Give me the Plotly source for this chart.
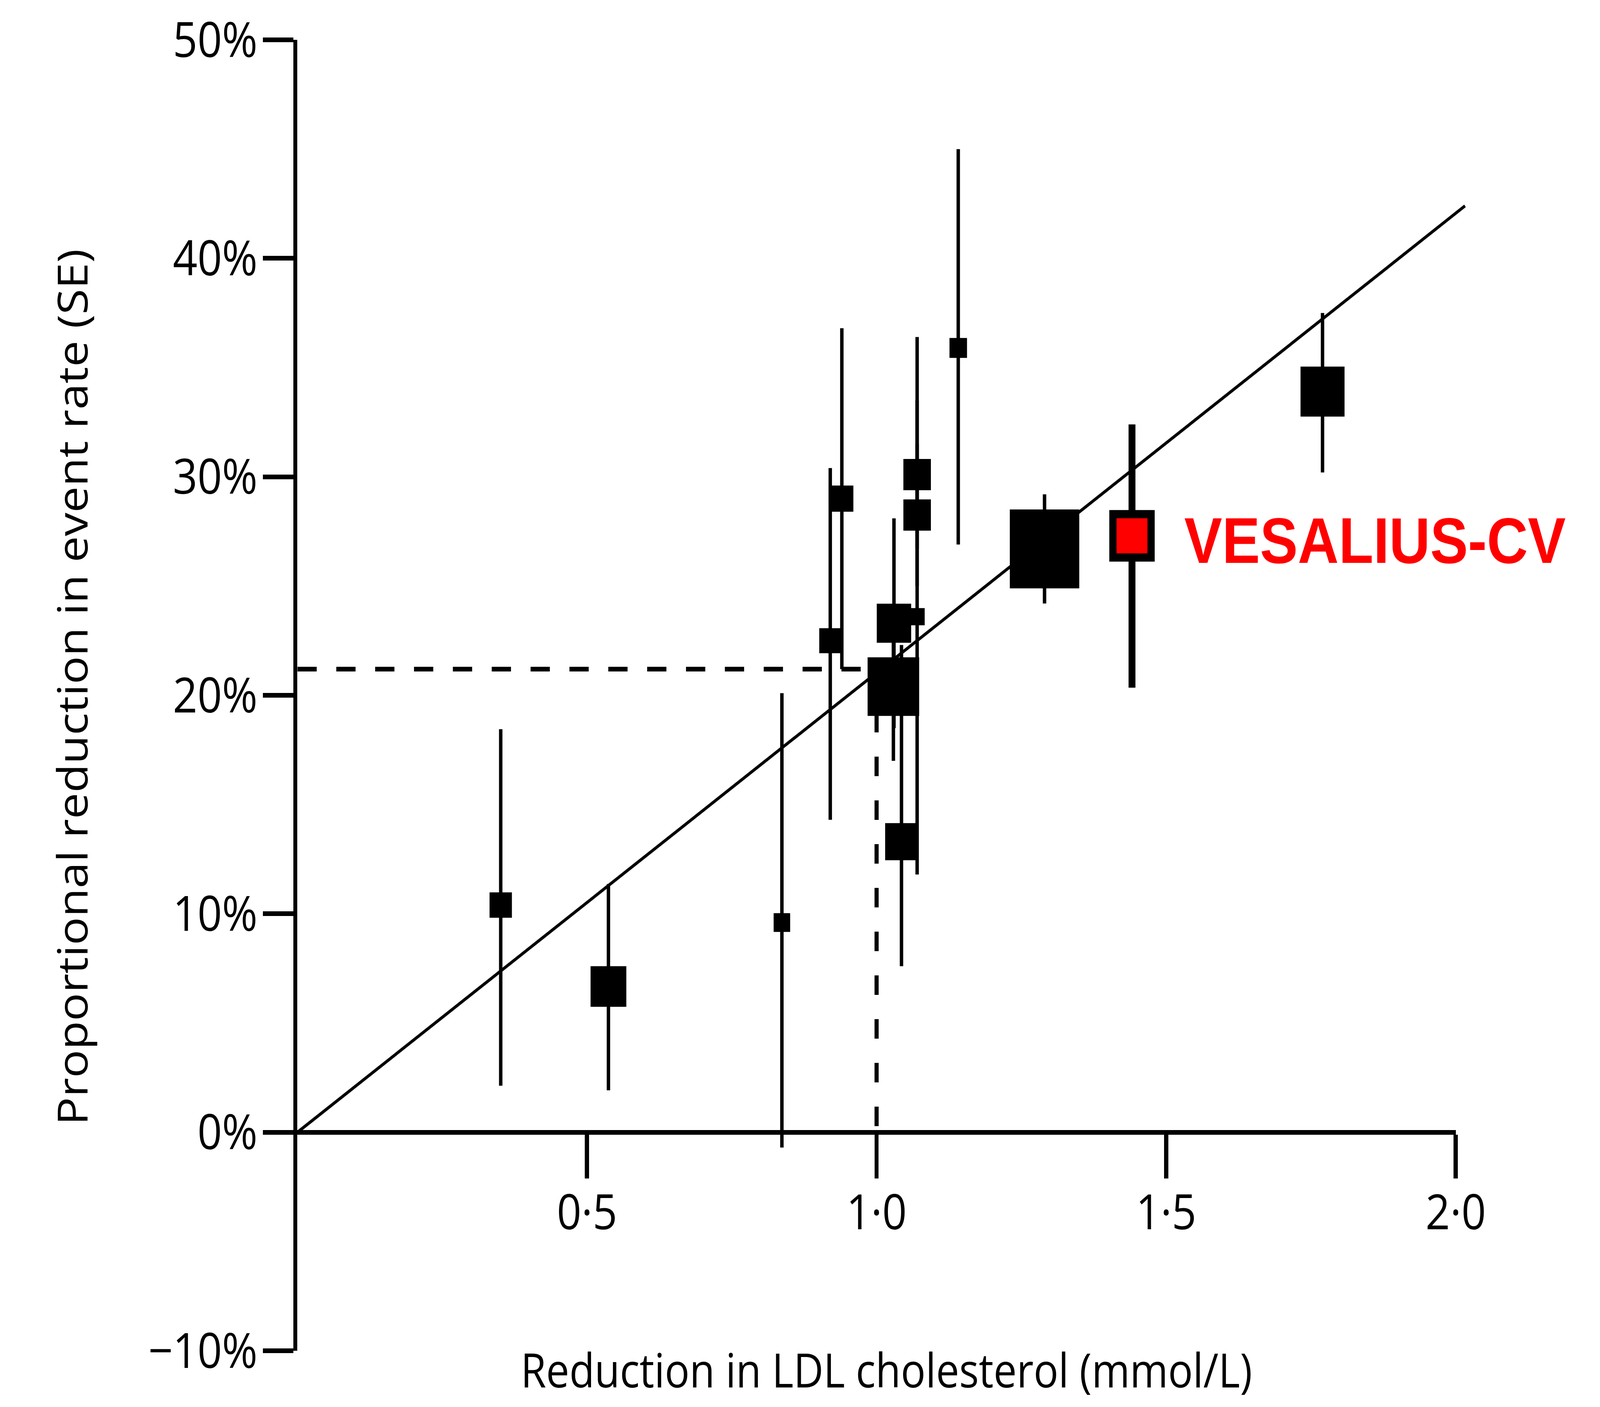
import plotly.graph_objects as go

# ---------------- data ----------------
# trials: reduction in LDL cholesterol (mmol/L) vs proportional reduction in event rate (%)
ldl_reduction = [0.351, 0.537, 0.8365, 0.920, 0.940, 1.029, 1.030, 1.070, 1.070, 1.070, 1.043, 1.141, 1.290, 1.770]
event_reduction = [10.4, 6.67, 9.6, 22.5, 29.0, 20.4, 23.3, 23.6, 30.1, 28.25, 13.3, 35.9, 26.7, 33.9]
ci_upper = [18.45, 11.36, 20.1, 30.4, 36.8, 23.8, 28.1, 36.4, 33.5, 31.5, 22.3, 45.0, 29.2, 37.5]
ci_lower = [2.13, 1.92, -0.7, 14.3, 21.2, 17.0, 18.5, 11.8, 26.7, 25.0, 7.6, 26.9, 24.2, 30.2]
study_weight = [6.5, 10.4, 4.8, 6.4, 6.7, 15.0, 10.0, 4.4, 8.0, 8.0, 9.5, 5.1, 20.2, 12.8]

# highlighted trial
vesalius_name = "VESALIUS-CV"
vesalius_ldl = [1.441]
vesalius_event = [27.3]
vesalius_upper = [32.4]
vesalius_lower = [20.35]
vesalius_weight = [11.1]

# regression line through the origin
reg_ldl = [0.0, 2.016]
reg_event = [0.0, 42.4]

# reference guide at 1 mmol/L
ref_ldl = 1.0
ref_event = 21.2

# axis ticks
x_tickvals = [0.5, 1.0, 1.5, 2.0]
x_ticktext = ["0·5", "1·0", "1·5", "2·0"]
y_tickvals = [-10, 0, 10, 20, 30, 40, 50]
y_ticktext = ["−10%", "0%", "10%", "20%", "30%", "40%", "50%"]
x_title = "Reduction in LDL cholesterol (mmol/L)"
y_title = "Proportional reduction in event rate (SE)"

# ---------------- layout geometry ----------------
W, H = 4653, 3602
ML, MR, MT, MB = 865, 60, 61, 144
plot_w = W - ML - MR
plot_h = H - MT - MB
vis_w = 3405                      # pixel width of the 0-2.0 visible axis
vis_frac = vis_w / plot_w
x_max_vis = 2.0
x_max_data = x_max_vis / vis_frac
y_min, y_max = -10, 50
size_scale = 10.0                 # px per weight unit

FONT = "Open Sans, Noto Sans, DejaVu Sans, sans-serif"
BLACK = "#000000"
RED = "#ff0000"

fig = go.Figure()

# regression line (on the extended data axis so it may run a little past 2.0)
fig.add_trace(go.Scatter(
    x=reg_ldl, y=reg_event, xaxis="x2", yaxis="y", mode="lines",
    line=dict(color=BLACK, width=8), hoverinfo="skip", showlegend=False))

# dashed guides (on the visible axis)
fig.add_trace(go.Scatter(
    x=[0.0, ref_ldl], y=[ref_event, ref_event], xaxis="x", yaxis="y", mode="lines",
    line=dict(color=BLACK, width=12, dash="56px,57px"), hoverinfo="skip", showlegend=False))
fig.add_trace(go.Scatter(
    x=[ref_ldl, ref_ldl], y=[ref_event, 0.0], xaxis="x", yaxis="y", mode="lines",
    line=dict(color=BLACK, width=12, dash="50px,62px"), hoverinfo="skip", showlegend=False))

# trials
fig.add_trace(go.Scatter(
    x=ldl_reduction, y=event_reduction, xaxis="x2", yaxis="y", mode="markers",
    marker=dict(symbol="square", color=BLACK, opacity=1,
                size=[w * size_scale for w in study_weight], line=dict(width=0)),
    error_y=dict(type="data", symmetric=False,
                 array=[u - v for u, v in zip(ci_upper, event_reduction)],
                 arrayminus=[v - l for v, l in zip(event_reduction, ci_lower)],
                 color=BLACK, thickness=10, width=0),
    showlegend=False))

# VESALIUS-CV
fig.add_trace(go.Scatter(
    x=vesalius_ldl, y=vesalius_event, xaxis="x2", yaxis="y", mode="markers",
    marker=dict(symbol="square", color=RED, opacity=1,
                size=[w * size_scale for w in vesalius_weight],
                line=dict(width=21, color=BLACK)),
    error_y=dict(type="data", symmetric=False,
                 array=[u - v for u, v in zip(vesalius_upper, vesalius_event)],
                 arrayminus=[v - l for v, l in zip(vesalius_event, vesalius_lower)],
                 color=BLACK, thickness=20, width=0),
    showlegend=False))

fig.add_annotation(
    x=vesalius_ldl[0], y=vesalius_event[0], xref="x2", yref="y",
    text="<b>" + vesalius_name + "</b>", showarrow=False,
    xanchor="left", yanchor="middle", xshift=150, yshift=-12,
    font=dict(family="Liberation Sans, Arial, sans-serif", size=165, color=RED))

# axis titles
fig.add_annotation(
    x=0, y=0.5063, xref="paper", yref="paper", xshift=-657,
    text=y_title, textangle=-90, showarrow=False,
    xanchor="center", yanchor="middle",
    font=dict(family=FONT, size=120, color=BLACK))
fig.add_annotation(
    x=(2597 - ML) / plot_w, y=(0 - 48) / plot_h, xref="paper", yref="paper",
    text=x_title, showarrow=False, xanchor="center", yanchor="middle",
    font=dict(family=FONT, size=120, color=BLACK))

fig.update_layout(
    width=W, height=H,
    margin=dict(l=ML, r=MR, t=MT, b=MB, pad=0),
    paper_bgcolor="white", plot_bgcolor="rgba(0,0,0,0)",
    showlegend=False,
    xaxis=dict(
        domain=[0, vis_frac], range=[0, x_max_vis],
        anchor="free", position=(0 - y_min) / (y_max - y_min),
        showline=True, linecolor=BLACK, linewidth=12,
        ticks="outside", ticklen=112, tickwidth=12, tickcolor=BLACK,
        tickvals=x_tickvals, ticktext=x_ticktext,
        tickfont=dict(family=FONT, size=125, color=BLACK),
        ticklabelstandoff=-20, ticklabeloverflow="allow",
        showgrid=False, zeroline=False, fixedrange=True),
    xaxis2=dict(
        domain=[0, 1], range=[0, x_max_data], anchor="y",
        visible=False, showgrid=False, zeroline=False, fixedrange=True),
    yaxis=dict(
        domain=[0, 1], range=[y_min, y_max], anchor="x",
        showline=True, linecolor=BLACK, linewidth=12,
        ticks="outside", ticklen=89, tickwidth=12, tickcolor=BLACK,
        tickvals=y_tickvals, ticktext=y_ticktext,
        tickfont=dict(family=FONT, size=125, color=BLACK),
        ticklabelstandoff=-10, ticklabeloverflow="allow",
        showgrid=False, zeroline=False, fixedrange=True),
)

# stretch the figure so that it exactly fills the browser viewport
fit_script = """
(function(){
  var gd = document.getElementById('{plot_id}');
  if (!gd) return;
  var W = %d, H = %d;
  var vw = window.innerWidth, vh = window.innerHeight;
  var sx = (vw > 0) ? vw / W : 1;
  var sy = (vh > 0) ? vh / H : 1;
  document.documentElement.style.margin = '0';
  document.body.style.margin = '0';
  document.body.style.overflow = 'hidden';
  var wrap = gd.parentElement;
  wrap.style.width = (W * sx) + 'px';
  wrap.style.height = (H * sy) + 'px';
  wrap.style.overflow = 'hidden';
  gd.style.transformOrigin = '0 0';
  gd.style.transform = 'scale(' + sx + ',' + sy + ')';
})();
""" % (W, H)

fig.write_html("out.html", post_script=fit_script, config={"displayModeBar": False})
